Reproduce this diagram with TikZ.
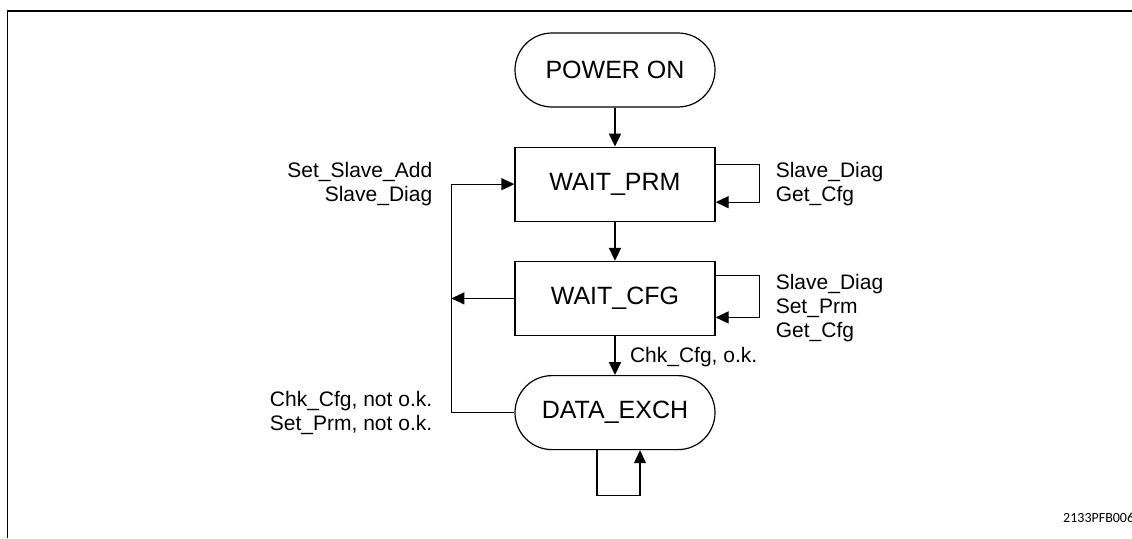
\documentclass[tikz,border=0pt]{standalone}
\usepackage{fontspec}
\setmainfont{Liberation Sans}
\newfontfamily\idfont{Carlito}
\usetikzlibrary{positioning,arrows.meta,calc}

\begin{document}
\begin{tikzpicture}[
    node distance=39pt and 60pt,
    box/.style={draw, line width=1.2pt, minimum width=200pt,
                minimum height=74pt, inner sep=0pt,
                font=\fontsize{25}{30}\selectfont},
    state/.style={box},
    term/.style={box, rounded corners=37pt},
    arr/.style={-{Triangle[length=13pt, width=12pt]}, line width=2pt},
    back/.style={-{Triangle[length=13pt, width=12pt]}, line width=1.2pt},
    lbl/.style={font=\fontsize{21}{24}\selectfont, inner sep=0pt},
]
\useasboundingbox (0,0) rectangle (1132pt,-538pt);
\draw[line width=1.8pt] (7.5pt,-538pt) -- (7.5pt,-11pt) -- (1132pt,-11pt);

% ---- states ----
\node[term]                 (pwr) at (615pt,-70pt) {POWER ON};
\node[state, below=of pwr]  (prm) {WAIT\_PRM};
\node[state, below=of prm]  (cfg) {WAIT\_CFG};
\node[term,  below=of cfg]  (dx)  {DATA\_EXCH};

\draw[arr] (pwr) -- (prm);
\draw[arr] (prm) -- (cfg);
\draw[arr] (cfg) -- node[lbl, right, xshift=14pt, yshift=-2pt]{Chk\_Cfg, o.k.} (dx);

% ---- loops on the right ----
\draw[back] ([yshift=20pt]prm.east) -- ++(44pt,0) |- ([yshift=-18pt]prm.east);
\draw[back] ([yshift=23pt]cfg.east) -- ++(44pt,0) |- ([yshift=-19pt]cfg.east);
\node[lbl, align=left, right=60pt of prm]               (prmin) {Slave\_Diag\\Get\_Cfg};
\node[lbl, align=left, right=60pt of cfg, yshift=-10pt] (cfgin) {Slave\_Diag\\Set\_Prm\\Get\_Cfg};

% ---- return to WAIT_PRM ----
\coordinate (ret) at ($(dx.west)+(-63pt,0)$);
\draw[line width=1.2pt] (dx.west) -- (ret);
\draw[back] (ret) |- (prm.west);
\draw[back] (cfg.west) -- (ret |- cfg.west);
\node[lbl, align=right, left=82pt of prm] (prmret) {Set\_Slave\_Add\\Slave\_Diag};
\node[lbl, align=right, left=82pt of dx]  (dxret)  {Chk\_Cfg, not o.k.\\Set\_Prm, not o.k.};

% ---- loop under DATA_EXCH ----
\draw[back] ([xshift=-18pt]dx.south) -- ++(0,-45pt) -| ([xshift=25pt]dx.south);

\node[font=\idfont\fontsize{14}{16}\selectfont, anchor=base west, inner sep=0pt]
    (id) at (1063pt,-522pt) {2133PFB006};
\end{tikzpicture}
\end{document}
